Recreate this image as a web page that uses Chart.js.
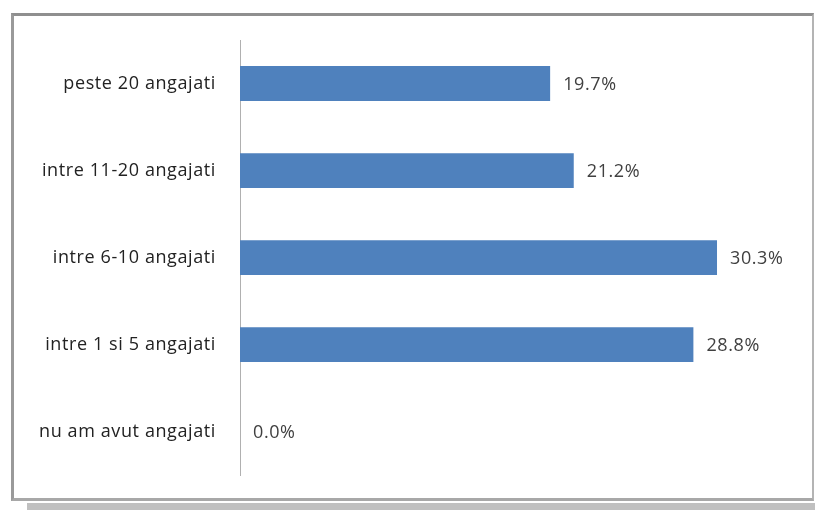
<!DOCTYPE html>
<html>
<head>
<meta charset="utf-8">
<script src="https://cdn.jsdelivr.net/npm/chart.js@4"></script>
<style>
  html, body { margin:0; padding:0; background:#fff; }
  #wrap { position:relative; width:815px; height:510px; overflow:hidden; background:#fff; }
  #shadow { position:absolute; left:27px; top:503px; width:800px; height:10px; background:#c0c0c0; }
  #box { position:absolute; left:11px; top:13px; width:798px; height:482px; background:#fff;
         border-left:3px solid #9a9a9a; border-top:3px solid #8f8f8f; border-right:2px solid #b4b4b4; border-bottom:3px solid #a8a8a8; }
  #c { position:absolute; left:0; top:0; }
</style>
</head>
<body>
<div id="wrap">
  <div id="shadow"></div>
  <div id="box"></div>
  <canvas id="c" width="815" height="510"></canvas>
</div>
<script>
const categories = ['peste 20 angajati', 'intre 11-20 angajati', 'intre 6-10 angajati', 'intre 1 si 5 angajati', 'nu am avut angajati'];
const values = [19.7, 21.2, 30.3, 28.8, 0.0];
const valueLabels = ['19.7%', '21.2%', '30.3%', '28.8%', '0.0%'];

const FONT = '"Open Sans", "DejaVu Sans", sans-serif';
const SPACING = '0.6px';

const spacingPlugin = {
  id: 'spacing',
  beforeLayout(chart) { chart.ctx.letterSpacing = SPACING; },
  beforeDraw(chart) { chart.ctx.letterSpacing = SPACING; }
};

const dataLabelPlugin = {
  id: 'dataLabels',
  afterDatasetsDraw(chart) {
    const ctx = chart.ctx;
    const meta = chart.getDatasetMeta(0);
    ctx.save();
    ctx.letterSpacing = SPACING;
    ctx.font = '18px ' + FONT;
    ctx.fillStyle = '#404040';
    ctx.textAlign = 'left';
    ctx.textBaseline = 'middle';
    meta.data.forEach((bar, i) => {
      ctx.fillText(valueLabels[i], bar.x + 13, bar.y + 1);
    });
    ctx.restore();
  }
};

new Chart(document.getElementById('c'), {
  type: 'bar',
  data: {
    labels: categories,
    datasets: [{
      data: values,
      backgroundColor: '#4F81BD',
      borderWidth: 0,
      barPercentage: 0.4,
      categoryPercentage: 1.0
    }]
  },
  options: {
    indexAxis: 'y',
    responsive: false,
    animation: false,
    devicePixelRatio: 1,
    layout: { padding: { left: 0, top: 40, bottom: 33, right: 24 } },
    plugins: { legend: { display: false }, tooltip: { enabled: false }, title: { display: false } },
    scales: {
      x: { display: false, min: 0, max: 35 },
      y: {
        afterFit(scale) { scale.width = 240; },
        grid: { display: false, drawTicks: false, tickLength: 0 },
        border: { display: true, color: '#b0b0b0', width: 1 },
        ticks: { color: '#222222', font: { family: FONT, size: 18 }, padding: 24 }
      }
    }
  },
  plugins: [spacingPlugin, dataLabelPlugin]
});
</script>
</body>
</html>
